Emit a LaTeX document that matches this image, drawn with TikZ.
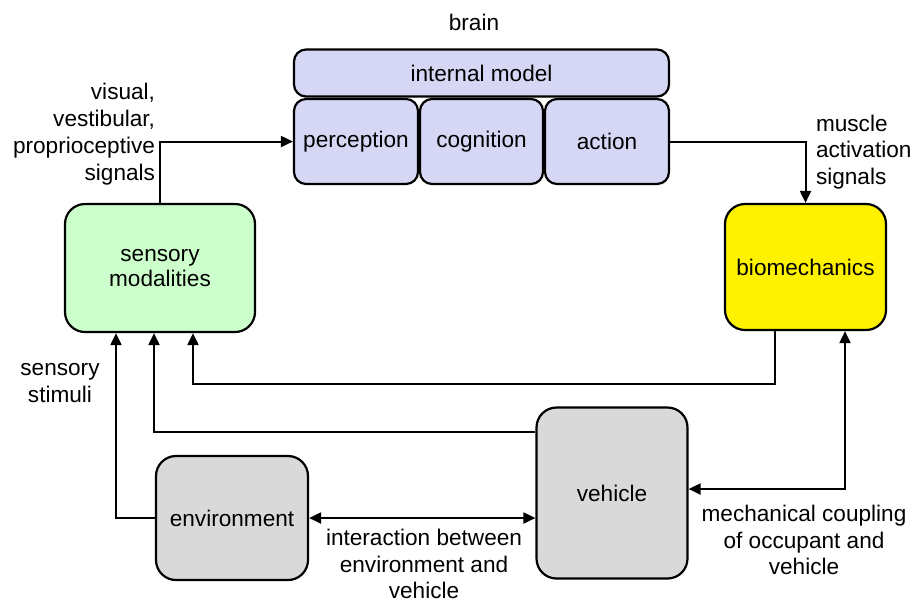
\documentclass[tikz,border=0pt]{standalone}
\usepackage{fontspec}
\setmainfont{Liberation Sans}
\usepackage{tikz}
\usetikzlibrary{calc,arrows.meta}

\definecolor{brainblue}{RGB}{214,214,245}
\definecolor{sensgreen}{RGB}{204,255,204}
\definecolor{boxgrey}{RGB}{217,217,217}

\tikzset{
  box/.style={draw,line width=1.1pt,rounded corners=10pt,inner sep=0pt,align=center,
              font=\fontsize{11.3}{12.6}\selectfont},
  brainbox/.style={box,fill=brainblue,rounded corners=6pt},
  lbl/.style={inner sep=0pt,font=\fontsize{11.3}{13.4}\selectfont}
}

\begin{document}
\begin{tikzpicture}[x=0.5pt,y=-0.5pt,line width=1pt,>={Triangle[length=6pt,width=5.5pt]}]
  \useasboundingbox (0,0) rectangle (913,602);
                  % brain
                  \node[brainbox,minimum width=187.5pt,minimum height=23.5pt] (im) at (481.5,73) {internal model};
                  \node[brainbox,minimum width=62pt,minimum height=42.5pt] (perc) at (356,141.5) {perception};
                  \node[brainbox,minimum width=61.5pt,minimum height=42.5pt] (cogn) at (481.5,141.5) {cognition};
                  \node[brainbox,minimum width=62pt,minimum height=42.5pt] (act) at (607,141.5) {action};
                  \node[lbl] (brain) at (474,22) {brain};
                  % body and surroundings
                  \node[box,fill=sensgreen,minimum width=95pt,minimum height=64pt] (sens) at (160,268) {sensory\\modalities};
                  \node[box,fill=yellow,minimum width=80.5pt,minimum height=63pt] (bio) at (805.5,267) {biomechanics};
                  \node[box,fill=boxgrey,minimum width=76pt,minimum height=62pt] (env) at (232,518) {environment};
                  \node[box,fill=boxgrey,minimum width=75.5pt,minimum height=85.5pt] (veh) at (612,493) {vehicle};
                    % connectors
                    \draw[->] (sens.north) |- (perc.west);
                    \draw[->] (act.east) -| (bio.north);
                    \draw[->] ($(bio.south)+(-30.5,0)$) -- ++(0,53) -| ($(sens.south)+(33,0)$);
                    \draw[->] ($(veh.north west)+(0,26)$) -| ($(sens.south)+(-6,0)$);
                    \draw[->] (env.west) -| ($(sens.south)+(-44,0)$);
                    \draw[<->] (env.east) -- (env.east -| veh.west);
                    \draw[<->] ($(veh.east)+(0,-4)$) -| ($(bio.south)+(39.5,0)$);
                      % labels
                      \node[lbl,align=right,anchor=east] (vis) at (156,134) {visual,\\vestibular,\\proprioceptive\\signals};
                      \node[lbl,align=left,anchor=west] (musc) at (815,152) {muscle\\activation\\signals};
                      \node[lbl,align=center] (stim) at (60,383) {sensory\\stimuli};
                      \node[lbl,align=center] (inter) at (424,564) {interaction between\\environment and\\vehicle};
                      \node[lbl,align=center] (coup) at (804,540) {mechanical coupling\\of occupant and\\vehicle};
\end{tikzpicture}
\end{document}
